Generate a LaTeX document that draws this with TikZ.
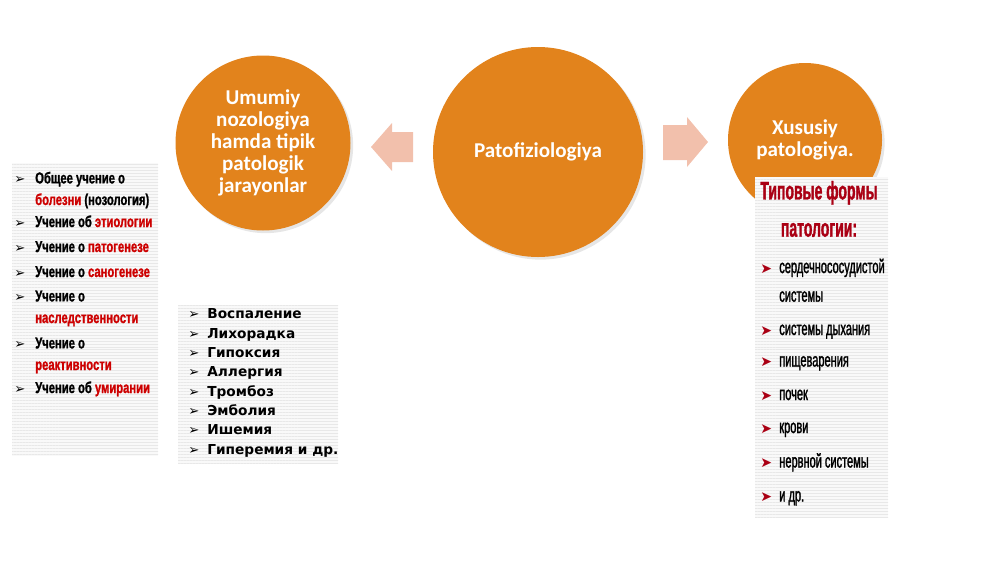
\documentclass[tikz,border=0pt]{standalone}
\usepackage{fontspec}
\setmainfont{Carlito}
\newfontfamily\narrowfont[FakeStretch=0.71, FakeBold=1.2]{Liberation Sans Bold}
\newfontfamily\titlefont[FakeStretch=0.55, FakeBold=1.2]{Liberation Sans Bold}
\newfontfamily\thinfont[FakeStretch=0.57, FakeBold=1.4]{Liberation Sans}
\newfontfamily\verdfont{DejaVu Sans}
\usetikzlibrary{patterns.meta}
\usetikzlibrary{shadows}

\definecolor{circorange}{RGB}{226,131,28}
\definecolor{arrowpink}{RGB}{242,192,172}
\definecolor{textred}{RGB}{205,0,0}
\definecolor{titlered}{RGB}{170,0,20}

\newcommand{\lbul}{\makebox[11.9pt][l]{\verdfont\fontsize{7.5}{7.5}\selectfont ➢}}
\newcommand{\mbul}{\makebox[10.8pt][l]{\verdfont\fontsize{7.5}{7.5}\selectfont ➢}}
\newcommand{\rbul}{\makebox[10.8pt][l]{\verdfont\fontsize{8}{8}\selectfont\color{titlered}➤}}

\begin{document}
\begin{tikzpicture}[
    x=0.2mm, y=-0.2mm,
    bigcircle/.style={circle, fill=circorange, inner sep=0, text=white, align=center,
        font=\bfseries\fontsize{12}{12.5}\selectfont,
        drop shadow={opacity=0.2, shadow xshift=1.5pt, shadow yshift=-1.5pt}},
    blockarrow/.style={fill=arrowpink},
    stripebox/.style={preaction={fill=gray!5}, pattern={Lines[angle=0, distance=1.7pt, line width=0.45pt]}, pattern color=gray!18},
    leftitem/.style={anchor=base west, inner sep=0, align=left,
        font=\narrowfont\fontsize{9}{12.3}\selectfont},
    miditem/.style={anchor=base west, inner sep=0, align=left,
        font=\verdfont\bfseries\fontsize{7.8}{11}\selectfont},
    rightitem/.style={anchor=base west, inner sep=0, align=left,
        font=\thinfont\fontsize{11}{16.3}\selectfont},
    righttitle/.style={anchor=base, inner sep=0, align=center, text=titlered,
        font=\titlefont\fontsize{14.5}{21.2}\selectfont}
]
\useasboundingbox (0,0) rectangle (1000,562);

% Circles
\node[bigcircle, minimum size=35mm] (umumiy) at (263,143) {Umumiy\\nozologiya\\hamda tipik\\patologik\\jarayonlar};
\node[bigcircle, minimum size=42mm] (patofiz) at (538,152) {Patofiziologiya};
\node[bigcircle, minimum size=30.8mm] (xususiy) at (805,140) {Xususiy\\patologiya.};

% Block arrows
\fill[blockarrow] (413,132) -- (392,132) -- (392,123) -- (371,147) -- (392,171) -- (392,162) -- (413,162) -- cycle;
\fill[blockarrow] (663,125) -- (687,125) -- (687,117) -- (708,142) -- (687,167) -- (687,160) -- (663,160) -- cycle;

% Boxes
\fill[stripebox] (12,163) rectangle (158,456);
\fill[stripebox] (178,305) rectangle (338,464);
\fill[stripebox] (755,177) rectangle (888,518);

% Left list
\node[leftitem] (nozol) at (14,205) {\lbul Общее учение о\\\hspace*{11.9pt}\textcolor{textred}{болезни} (нозология)};
\node[leftitem] (etiol) at (14,227) {\lbul Учение об \textcolor{textred}{этиологии}};
\node[leftitem] (patog) at (14,252) {\lbul Учение о \textcolor{textred}{патогенезе}};
\node[leftitem] (sanog) at (14,277) {\lbul Учение о \textcolor{textred}{саногенезе}};
\node[leftitem] (nasled) at (14,323) {\lbul Учение о\\\hspace*{11.9pt}\textcolor{textred}{наследственности}};
\node[leftitem] (reakt) at (14,370) {\lbul Учение о\\\hspace*{11.9pt}\textcolor{textred}{реактивности}};
\node[leftitem] (umir) at (14,393) {\lbul Учение об \textcolor{textred}{умирании}};

% Middle list
\node[miditem] (tipik) at (188,454) {\mbul Воспаление\\\mbul Лихорадка\\\mbul Гипоксия\\\mbul Аллергия\\\mbul Тромбоз\\\mbul Эмболия\\\mbul Ишемия\\\mbul Гиперемия и др.};

% Right list
\node[righttitle] (tipform) at (819,236.7) {Типовые формы\\патологии:};
\node[rightitem] (serdce) at (760,301.7) {\rbul сердечнососудистой\\\hspace*{10.8pt}системы};
\node[rightitem] (dyhan) at (760,335) {\rbul системы дыхания};
\node[rightitem] (pishch) at (760,366.5) {\rbul пищеварения};
\node[rightitem] (pochek) at (760,400) {\rbul почек};
\node[rightitem] (krovi) at (760,433) {\rbul крови};
\node[rightitem] (nervn) at (760,467.5) {\rbul нервной системы};
\node[rightitem] (idr) at (760,501.5) {\rbul и др.};

\end{tikzpicture}
\end{document}
